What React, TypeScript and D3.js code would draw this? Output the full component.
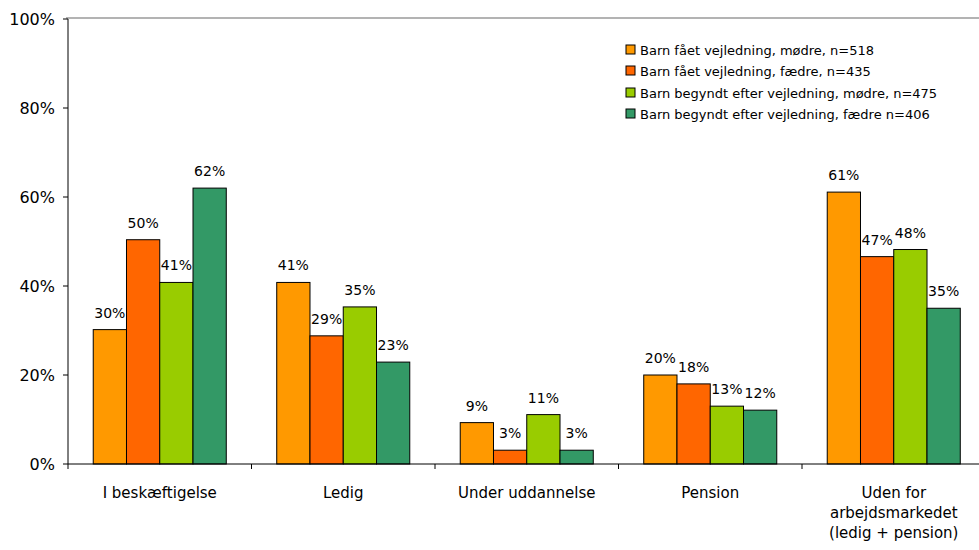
import React from "react";
import * as d3 from "d3";

const categories = ["I beskæftigelse", "Ledig", "Under uddannelse", "Pension", "Uden for arbejdsmarkedet (ledig + pension)"];
const categoryLines = [["I beskæftigelse"], ["Ledig"], ["Under uddannelse"], ["Pension"], ["Uden for", "arbejdsmarkedet", "(ledig + pension)"]];
const seriesNames = [
  "Barn fået vejledning, mødre, n=518",
  "Barn fået vejledning, fædre, n=435",
  "Barn begyndt efter vejledning, mødre, n=475",
  "Barn begyndt efter vejledning, fædre n=406",
];
const seriesColors = ["#FF9900", "#FF6600", "#99CC00", "#339966"];
const seriesValues = [
  [30.2, 40.8, 9.3, 20.0, 61.1],
  [50.4, 28.8, 3.1, 18.0, 46.6],
  [40.8, 35.3, 11.1, 13.0, 48.2],
  [62.0, 22.9, 3.1, 12.1, 35.0],
];
const yTicks = [0, 20, 40, 60, 80, 100];

const W = 979;
const H = 550;
const FONT = "Verdana, 'DejaVu Sans', sans-serif";

export default function App() {
  const left = 68;
  const top = 19;
  const bottom = 464;
  const x0 = d3.scaleBand<number>().domain(categories.map((_, i) => i)).range([left, 985.5]).paddingInner(0.275).paddingOuter(0.1375);
  const x1 = d3.scaleBand<number>().domain(seriesValues.map((_, i) => i)).range([0, x0.bandwidth()]);
  const y = d3.scaleLinear().domain([0, 100]).range([bottom, top]);
  const step = x0.step();
  const boundaries = d3.range(categories.length + 1).map((i) => left + i * step);

  return (
    <div style={{ position: "absolute", left: 0, top: 0 }}>
      <svg width={W} height={H} style={{ display: "block", background: "#fff" }} fontFamily={FONT}>
        <line x1={left - 2} x2={W} y1={18} y2={18} stroke="#9a9a9a" strokeWidth={1.5} />
        {seriesValues.map((vals, s) =>
          vals.map((v, c) => {
            const bx = (x0(c) as number) + (x1(s) as number);
            const bw = x1.bandwidth();
            return (
              <g key={`${s}-${c}`}>
                <rect x={bx} y={y(v)} width={bw} height={bottom - y(v)} fill={seriesColors[s]} stroke="#000" strokeWidth={1} />
                <text x={bx + bw / 2} y={y(v) - 12} textAnchor="middle" fontSize={14} fill="#000">
                  {Math.round(v)}%
                </text>
              </g>
            );
          })
        )}
        <line x1={left} x2={left} y1={top} y2={bottom} stroke="#000" />
        <line x1={left} x2={W} y1={bottom} y2={bottom} stroke="#000" />
        {yTicks.map((t) => (
          <g key={t}>
            <line x1={left - 5} x2={left} y1={y(t)} y2={y(t)} stroke="#000" />
            <text x={55} y={y(t)} dy="0.35em" textAnchor="end" fontSize={16} fill="#000">
              {t}%
            </text>
          </g>
        ))}
        {boundaries.map((b, i) => (
          <line key={i} x1={b} x2={b} y1={bottom} y2={bottom + 5} stroke="#000" />
        ))}
        {categoryLines.map((lines, i) => (
          <text key={i} x={(x0(i) as number) + x0.bandwidth() / 2} y={498} textAnchor="middle" fontSize={15} fill="#000">
            {lines.map((l, j) => (
              <tspan key={j} x={(x0(i) as number) + x0.bandwidth() / 2} dy={j === 0 ? 0 : 20}>
                {l}
              </tspan>
            ))}
          </text>
        ))}
        {seriesNames.map((n, i) => {
          const ly = [50, 71, 93, 114][i];
          return (
            <g key={i}>
              <rect x={626} y={ly - 5} width={9} height={9} fill={seriesColors[i]} stroke="#000" strokeWidth={1} />
              <text x={640} y={ly} dy="0.35em" fontSize={13} fill="#000">
                {n}
              </text>
            </g>
          );
        })}
      </svg>
    </div>
  );
}
